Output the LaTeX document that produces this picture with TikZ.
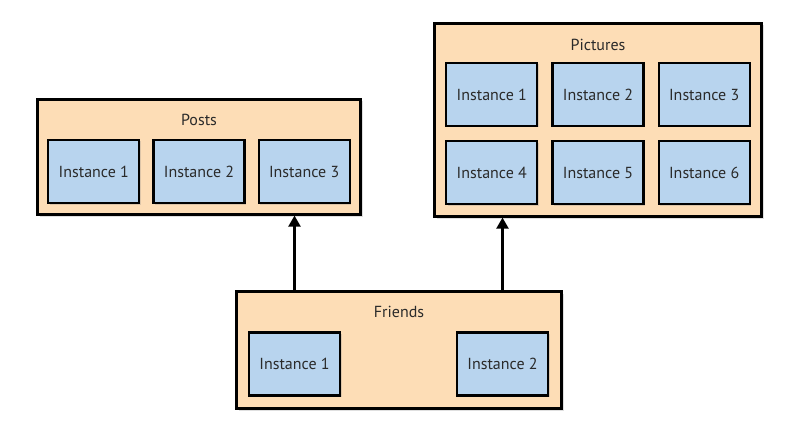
\documentclass[tikz,border=0pt]{standalone}
\usepackage{fontspec}
\setmainfont{PT Sans}
\usepackage{xcolor}
\usepackage{tikz}
\usetikzlibrary{positioning,arrows.meta,shadows}
\definecolor{groupfill}{HTML}{FDDDB6}
\definecolor{instfill}{HTML}{B8D4EE}
\definecolor{textcol}{HTML}{2A2A2A}
\tikzset{
  group/.style ={draw, line width=2.2pt, fill=groupfill, inner sep=0pt,
                 drop shadow={opacity=0.25, shadow xshift=2pt, shadow yshift=-2pt}},
  inst/.style  ={draw, line width=2.2pt, fill=instfill, minimum width=91pt,
                 minimum height=63pt, inner sep=0pt, text=textcol,
                 font=\fontsize{16}{18}\selectfont,
                 drop shadow={opacity=0.25, shadow xshift=1.5pt, shadow yshift=-1.5pt}},
  title/.style ={text=textcol, font=\fontsize{16}{18}\selectfont},
  arrow/.style ={-{Triangle[width=12pt,length=11pt]}, line width=2.2pt}
}
\begin{document}
\begin{tikzpicture}[x=1pt, y=1pt, node distance=11pt]
    \useasboundingbox[fill=white] (0,0) rectangle (796,424);
    % posts
    \node[group, minimum width=323pt, minimum height=115pt] (posts) at (199,267) {};
    \node[title] (poststitle) at (199,304) {Posts};
    \node[inst] (p2) at (199,252.5) {Instance 2};
    \node[inst, left=12pt of p2] (p1) {Instance 1};
    \node[inst, right=12pt of p2] (p3) {Instance 3};
    % pictures
    \node[group, minimum width=327pt, minimum height=193pt] (pictures) at (598,304) {};
    \node[title] (picturestitle) at (598,379) {Pictures};
    \node[inst] (q2) at (598,329.5) {Instance 2};
    \node[inst, left=13pt of q2] (q1) {Instance 1};
    \node[inst, right=13pt of q2] (q3) {Instance 3};
    \node[inst, below=13pt of q1] (q4) {Instance 4};
    \node[inst, below=13pt of q2] (q5) {Instance 5};
    \node[inst, below=13pt of q3] (q6) {Instance 6};
    % friends
    \node[group, minimum width=325pt, minimum height=117pt] (friends) at (399,74) {};
    \node[title] (friendstitle) at (399,112) {Friends};
    \node[inst] (f1) at (294.5,60) {Instance 1};
    \node[inst] (f2) at (502.5,60) {Instance 2};
    % arrows
    \draw[arrow] (f1 |- friends.north) -- (f1 |- posts.south);
    \draw[arrow] (f2 |- friends.north) -- (f2 |- pictures.south);
\end{tikzpicture}
\end{document}
